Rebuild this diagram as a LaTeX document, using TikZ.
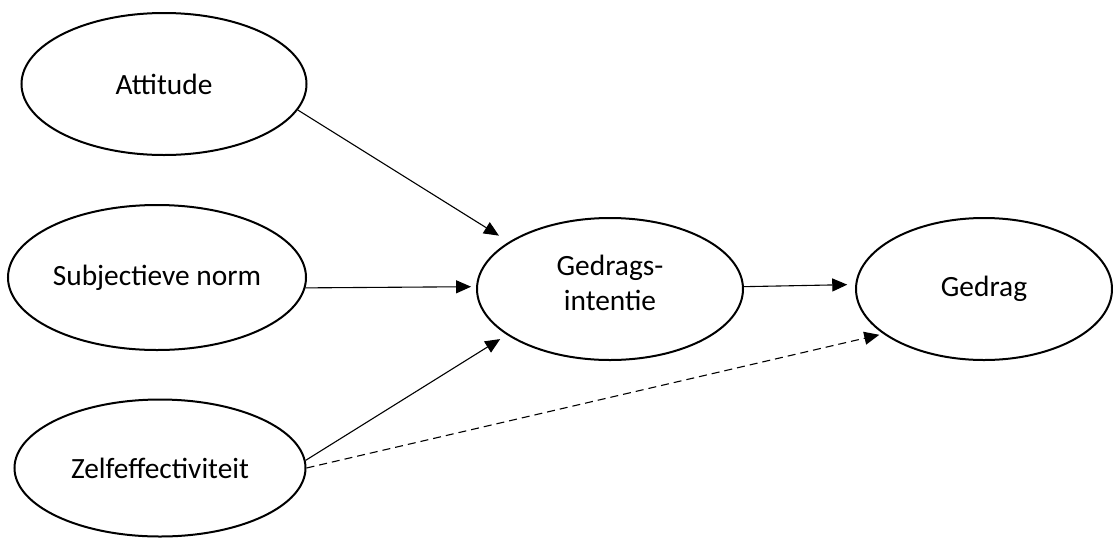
\documentclass[tikz,border=0pt]{standalone}
\usepackage{fontspec}
\setmainfont{Carlito}
\usetikzlibrary{shapes.geometric,arrows.meta}
\begin{document}
\begin{tikzpicture}[x=0.5pt,y=-0.5pt,
  construct/.style={draw=black, line width=1pt, ellipse, inner sep=0pt,
    align=center, font=\fontsize{14.7}{17.5}\selectfont},
  link/.style={line width=0.55pt, -{Triangle[length=7.5pt,width=6.5pt]}},
  weaklink/.style={link, dash pattern=on 4pt off 2.5pt}]
\useasboundingbox (0,0) rectangle (1113,541);
\node[construct, minimum width=285pt*0.5, minimum height=142pt*0.5] (att) at (164,84) {Attitude};
\node[construct, minimum width=298pt*0.5, minimum height=145pt*0.5] (sn) at (157,277.5) {Subjectieve norm};
\node[construct, minimum width=291pt*0.5, minimum height=137pt*0.5] (ze) at (160,468) {Zelfeffectiviteit};
\node[construct, minimum width=266pt*0.5, minimum height=142pt*0.5] (gi) at (610,289) {Gedrags-\\intentie\\[-11pt]};
\node[construct, minimum width=256pt*0.5, minimum height=142pt*0.5] (gd) at (984,289) {Gedrag};
\draw[link, shorten >=5.8pt] (att.-11) -- (gi.155);
\draw[link, shorten >=2.5pt] (sn.-4) -- (gi.179.5);
\draw[link, shorten >=3.9pt] (ze.3) -- (gi.204.4);
\draw[link, shorten >=4pt] (gi.1.7) -- (gd.178.2);
\draw[weaklink, shorten >=2pt] (ze.0) -- (gd.204.5);
\end{tikzpicture}
\end{document}
